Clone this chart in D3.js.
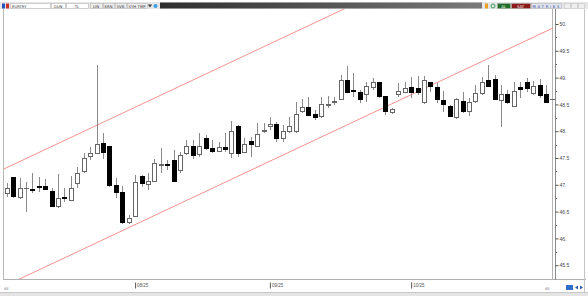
<!DOCTYPE html>
<html>
<head>
<meta charset="utf-8">
<script src="https://cdnjs.cloudflare.com/ajax/libs/d3/7.8.5/d3.min.js"></script>
<style>
body { margin: 0; background: #fff; overflow: hidden; }
svg { display: block; font-family: "DejaVu Sans", sans-serif; }
</style>
</head>
<body>
<div id="chart"></div>
<script>
// daily EURTRY candles
var opens = [46.83,47.13,46.77,46.93,46.91,46.965,46.96,46.87,46.59,46.77,46.70,47.02,47.24,47.52,47.59,47.78,47.71,46.98,46.85,46.29,
  46.40,47.15,47.00,47.07,47.36,47.37,47.46,47.26,47.59,47.72,47.56,47.87,47.67,47.63,47.69,47.58,48.08,47.61,47.80,47.72,
  47.99,48.08,48.13,47.87,47.99,47.99,48.36,48.45,48.32,48.27,48.48,48.54,48.60,48.94,48.755,48.73,48.68,48.81,48.90,48.64,
  48.34,48.69,48.73,48.81,48.79,48.53,48.90,48.81,48.58,48.47,48.25,48.56,48.36,48.55,48.71,48.94,48.97,48.58,48.69,48.47,
  48.81,48.90,48.71,48.86,48.69,48.60];
var highs = [47.03,47.15,47.13,47.05,47.22,47.15,47.11,46.94,47.20,46.94,47.16,47.33,47.59,47.71,49.24,47.97,47.72,47.13,46.98,46.44,
  47.18,47.18,47.22,47.48,47.69,47.46,47.65,47.61,47.84,47.84,47.97,47.93,47.84,47.80,47.97,48.19,48.12,47.87,47.89,48.15,
  48.15,48.27,48.17,48.12,48.27,48.55,48.60,48.64,48.40,48.64,48.66,48.64,49.05,49.22,49.09,48.77,48.92,48.99,48.92,48.66,
  48.43,48.90,48.92,49.01,49.03,49.03,48.92,48.90,48.75,48.49,48.62,48.73,48.62,48.86,49.01,49.24,49.05,48.86,48.77,48.92,
  48.92,48.99,48.94,48.97,48.86,48.61];
var lows = [46.77,46.75,46.74,46.49,46.85,46.87,46.90,46.59,46.57,46.68,46.70,46.94,47.22,47.46,47.58,47.48,46.96,46.75,46.27,46.27,
  46.40,46.96,46.90,47.05,47.22,47.28,47.05,47.22,47.56,47.48,47.52,47.65,47.59,47.61,47.61,47.50,47.52,47.59,47.52,47.71,
  47.97,48.02,47.80,47.80,47.97,47.97,48.34,48.28,48.21,48.25,48.43,48.49,48.58,48.71,48.64,48.53,48.55,48.77,48.62,48.30,
  48.32,48.64,48.71,48.62,48.68,48.51,48.73,48.53,48.36,48.27,48.23,48.34,48.28,48.53,48.68,48.83,48.58,48.08,48.51,48.45,
  48.62,48.73,48.68,48.62,48.53,48.59];
var closes = [46.94,46.79,46.94,46.94,46.90,46.955,46.92,46.60,46.75,46.74,46.94,47.22,47.50,47.59,47.76,47.61,46.98,46.85,46.29,46.38,
  47.05,47.03,47.07,47.39,47.37,47.36,47.07,47.54,47.71,47.54,47.71,47.67,47.63,47.69,47.65,48.00,47.58,47.76,47.76,47.93,
  48.02,48.13,47.87,47.99,48.08,48.32,48.45,48.30,48.25,48.49,48.49,48.55,48.94,48.73,48.745,48.60,48.83,48.90,48.64,48.36,
  48.40,48.75,48.79,48.73,48.73,48.94,48.83,48.60,48.49,48.28,48.60,48.36,48.53,48.71,48.90,48.83,48.60,48.68,48.53,48.75,
  48.77,48.79,48.84,48.66,48.53,48.60];

// month ticks (candle index) and labels
var tickIdx = [20, 41, 63];
var tickLabels = ["08/25", "09/25", "10/25"];

// price axis
var yTicks = [45.5, 46, 46.5, 47, 47.5, 48, 48.5, 49, 49.5, 50];

// trend channel, two anchor points each (candle index, price)
var channelIdx = [0, 85];
var upperChannel = [47.32, 52.11];
var lowerChannel = [45.13, 49.92];

var width = 588, height = 296;
var plotLeft = 3.5, plotRight = 555.6, plotTop = 9, plotBottom = 279;

var svg = d3.select("#chart").append("svg")
  .attr("width", width)
  .attr("height", height);

var data = opens.map(function (o, i) {
  return { i: i, o: o, h: highs[i], l: lows[i], c: closes[i] };
});

var x = d3.scaleLinear().domain([-0.5, opens.length - 0.5]).range([plotLeft, plotRight]);
var y = d3.scaleLinear().domain([45.28, 50.28]).range([277, 9]);

// frame
svg.append("rect").attr("x", 0).attr("y", 0).attr("width", width).attr("height", height).attr("fill", "#fff");
svg.append("rect").attr("x", 0).attr("y", 293).attr("width", width).attr("height", 3).attr("fill", "#e4e4e4");
svg.append("line").attr("x1", 0).attr("x2", width).attr("y1", 292.5).attr("y2", 292.5).attr("stroke", "#c8c8c8");
svg.append("line").attr("x1", 3.5).attr("x2", 3.5).attr("y1", 9).attr("y2", 279).attr("stroke", "#b8b8b8");
svg.append("line").attr("x1", 3).attr("x2", 586).attr("y1", 279.5).attr("y2", 279.5).attr("stroke", "#b0b0b0");
svg.append("line").attr("x1", 552.5).attr("x2", 552.5).attr("y1", 3).attr("y2", 280).attr("stroke", "#b4b4b4");
svg.append("line").attr("x1", 555.5).attr("x2", 555.5).attr("y1", 3).attr("y2", 280).attr("stroke", "#8a8a8a");
svg.append("line").attr("x1", 584.5).attr("x2", 584.5).attr("y1", 9).attr("y2", 292).attr("stroke", "#c4c4c4");

// toolbar
var bar = svg.append("g").attr("class", "toolbar");
bar.append("rect").attr("x", 0).attr("y", 2).attr("width", width).attr("height", 7).attr("fill", "#e6e6e6");
var defs = svg.append("defs");
var grad = defs.append("linearGradient").attr("id", "dark");
grad.append("stop").attr("offset", "0").attr("stop-color", "#2e2e2e");
grad.append("stop").attr("offset", "1").attr("stop-color", "#7a7a7a");
bar.append("rect").attr("x", 160).attr("y", 2.5).attr("width", 322).attr("height", 6).attr("fill", "url(#dark)");

var buttons = [
  { x: 10, w: 40, t: "EURTRY", fill: "#fff", color: "#333" },
  { x: 51, w: 14, t: "GUN", fill: "#fff", color: "#333" },
  { x: 66, w: 22, t: "TL", fill: "#fff", color: "#333" },
  { x: 90, w: 12, t: "LIN", fill: "#eee", color: "#333" },
  { x: 103, w: 11, t: "KRN", fill: "#eee", color: "#333" },
  { x: 115, w: 11, t: "SVB", fill: "#eee", color: "#333" },
  { x: 127, w: 20, t: "SYH TMP", fill: "#eee", color: "#333" },
  { x: 497, w: 13, t: "AL", fill: "#1f6f2a", color: "#fff" },
  { x: 511, w: 19, t: "SAT", fill: "#8a1a1a", color: "#fff" },
  { x: 531, w: 30, t: "MATRiKS", fill: "#dfe4ee", color: "#2a3f8a" }
];
var btn = bar.selectAll(".btn").data(buttons).enter().append("g").attr("class", "btn");
btn.append("rect")
  .attr("x", d => d.x + 0.5).attr("y", 3.5).attr("width", d => d.w).attr("height", 5)
  .attr("fill", d => d.fill).attr("stroke", "#aaa").attr("stroke-width", 0.5);
btn.append("text")
  .attr("x", d => d.x < 20 ? d.x + 2 : d.x + d.w / 2)
  .attr("text-anchor", d => d.x < 20 ? "start" : "middle")
  .attr("y", 7.5).attr("font-size", 3.8).attr("fill", d => d.color)
  .attr("textLength", d => d.t.length > 5 && d.x > 20 ? d.w - 3 : null)
  .text(d => d.t);
bar.append("rect").attr("x", 2).attr("y", 3.5).attr("width", 3).attr("height", 5).attr("fill", "#2456b8");
bar.append("rect").attr("x", 6).attr("y", 3.5).attr("width", 3).attr("height", 5).attr("fill", "#c8322c");
bar.append("path").attr("d", "M148,4.5 L152,4.5 L150,7.5 Z").attr("fill", "#333");
bar.append("circle").attr("cx", 155.5).attr("cy", 6).attr("r", 2).attr("fill", "#3aa0e8");
bar.append("rect").attr("x", 485).attr("y", 3.5).attr("width", 3).attr("height", 5).attr("fill", "#e8a020");
bar.append("circle").attr("cx", 493).attr("cy", 6).attr("r", 2).attr("fill", "none").attr("stroke", "#3a9a5a");
[564, 571, 578].forEach(function (bx) {
  bar.append("rect").attr("x", bx + 0.5).attr("y", 3.5).attr("width", 6).attr("height", 5)
    .attr("fill", "#eee").attr("stroke", "#bbb").attr("stroke-width", 0.5);
});

// channel lines, clipped to plot
defs.append("clipPath").attr("id", "plot").append("rect")
  .attr("x", plotLeft).attr("y", plotTop).attr("width", 553 - plotLeft).attr("height", plotBottom - plotTop);
var chan = svg.append("g").attr("clip-path", "url(#plot)");
[upperChannel, lowerChannel].forEach(function (ch) {
  var slope = (ch[1] - ch[0]) / (channelIdx[1] - channelIdx[0]);
  chan.append("line")
    .attr("x1", x(channelIdx[0] - 2)).attr("y1", y(ch[0] - 2 * slope))
    .attr("x2", x(channelIdx[1] + 1)).attr("y2", y(ch[1] + slope))
    .attr("stroke", "#f39490").attr("stroke-width", 1);
});

// candles
var candles = svg.append("g").attr("shape-rendering", "crispEdges");
var cg = candles.selectAll(".candle").data(data).enter().append("g").attr("class", "candle");
cg.append("line")
  .attr("x1", d => Math.round(x(d.i)) + 0.5).attr("x2", d => Math.round(x(d.i)) + 0.5)
  .attr("y1", d => y(d.h)).attr("y2", d => y(d.l))
  .attr("stroke", "#8a8a8a");
cg.append("rect")
  .attr("x", d => Math.round(x(d.i)) - 1.5)
  .attr("width", 4)
  .attr("y", d => y(Math.max(d.o, d.c)))
  .attr("height", d => Math.max(0.8, Math.abs(y(d.o) - y(d.c))))
  .attr("fill", d => d.c >= d.o ? "#fff" : "#000")
  .attr("stroke", d => d.c >= d.o ? "#666" : "#000")
  .attr("stroke-width", 1);

// price axis on the right
var yAxis = d3.axisRight(y)
  .tickValues(yTicks)
  .tickSize(3)
  .tickFormat(d => d % 1 === 0 ? d + "." : String(d));
var ya = svg.append("g").attr("transform", "translate(555.5,0)").call(yAxis);
ya.select(".domain").remove();
ya.selectAll("line").attr("stroke", "#555");
ya.selectAll("text").attr("font-size", 5).attr("fill", "#444").attr("x", 4).attr("dy", "0.35em");
var minor = svg.append("g");
minor.selectAll("line").data(yTicks.slice(0, -1)).enter().append("line")
  .attr("x1", 555.5).attr("x2", 557)
  .attr("y1", d => Math.round(y(d + 0.25)) + 0.5).attr("y2", d => Math.round(y(d + 0.25)) + 0.5)
  .attr("stroke", "#666");

// month axis at the bottom
var xAxis = d3.axisBottom(x)
  .tickValues(tickIdx)
  .tickSize(6)
  .tickFormat((d, i) => tickLabels[i]);
var xa = svg.append("g").attr("transform", "translate(0,282.5)").call(xAxis);
xa.select(".domain").remove();
xa.selectAll("line").attr("stroke", "#555");
xa.selectAll("text").attr("font-size", 4.5).attr("fill", "#555")
  .attr("text-anchor", "start").attr("x", 1.5).attr("y", 1.5);

// small status icons
svg.append("text").attr("x", 4).attr("y", 290).attr("font-size", 4).attr("fill", "#667").text("ılıl");
svg.append("text").attr("x", 545).attr("y", 290).attr("font-size", 4).attr("fill", "#667").text("ılıl");
svg.append("rect").attr("x", 566).attr("y", 285).attr("width", 7).attr("height", 5).attr("fill", "#2f6fc8");
svg.append("path").attr("d", "M575,287.5 L578,285.5 L578,289.5 Z M583,287.5 L580,285.5 L580,289.5 Z").attr("fill", "#2f5fa8");
</script>
</body>
</html>
